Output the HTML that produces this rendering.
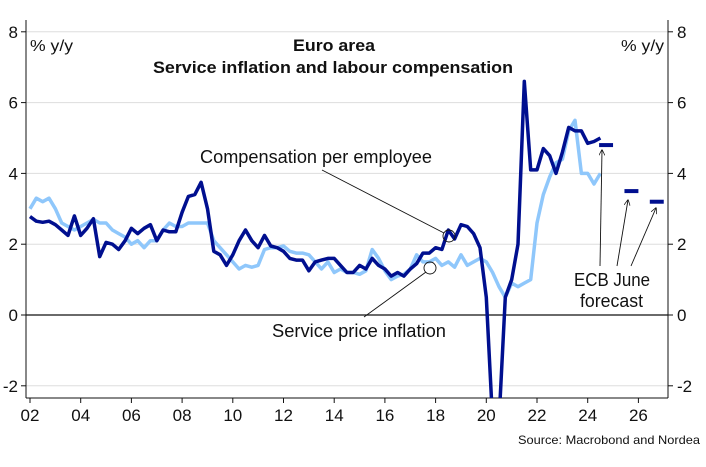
<!DOCTYPE html>
<html><head><meta charset="utf-8"><style>
html,body{margin:0;padding:0;background:#fff;}
svg text{font-family:"Liberation Sans Narrow","Liberation Sans",sans-serif;fill:#111;}
</style></head><body>
<svg id="chart" width="706" height="462" viewBox="0 0 706 462" xmlns="http://www.w3.org/2000/svg">
<defs><clipPath id="plotclip"><rect x="26" y="20" width="642" height="378"/></clipPath>
<marker id="ah" viewBox="0 0 10 10" refX="9" refY="5" markerWidth="7" markerHeight="7" orient="auto"><path d="M0,0 L10,5 L0,10" fill="none" stroke="#111" stroke-width="1.2"/></marker></defs>
<g id="grid"></g>
<g id="axes"></g>
<g id="series" clip-path="url(#plotclip)"></g>
<g id="annot">
<text x="200" y="163" font-size="18" textLength="232" lengthAdjust="spacingAndGlyphs">Compensation per employee</text>
<line x1="322" y1="170" x2="444" y2="233" stroke="#111" stroke-width="0.9"/>
<circle cx="449" cy="236" r="6" fill="none" stroke="#111" stroke-width="0.9"/>
<text x="272" y="337" font-size="18" textLength="174" lengthAdjust="spacingAndGlyphs">Service price inflation</text>
<line x1="364" y1="317" x2="426" y2="272" stroke="#111" stroke-width="0.9"/>
<circle cx="430" cy="268" r="6" fill="none" stroke="#111" stroke-width="0.9"/>
<text x="574" y="286" font-size="18" textLength="76" lengthAdjust="spacingAndGlyphs">ECB June</text>
<text x="580" y="307" font-size="18" textLength="63" lengthAdjust="spacingAndGlyphs">forecast</text>
<line x1="600" y1="266" x2="602" y2="150" stroke="#111" stroke-width="0.9" marker-end="url(#ah)"/>
<line x1="617" y1="266" x2="628" y2="200" stroke="#111" stroke-width="0.9" marker-end="url(#ah)"/>
<line x1="631" y1="266" x2="656" y2="208" stroke="#111" stroke-width="0.9" marker-end="url(#ah)"/>
</g>
<text x="30" y="51" font-size="16" textLength="43" lengthAdjust="spacingAndGlyphs">% y/y</text>
<text x="621" y="51" font-size="16" textLength="43" lengthAdjust="spacingAndGlyphs">% y/y</text>
<text x="293" y="51" font-size="17" font-weight="bold" textLength="82" lengthAdjust="spacingAndGlyphs">Euro area</text>
<text x="153" y="73" font-size="17" font-weight="bold" textLength="360" lengthAdjust="spacingAndGlyphs">Service inflation and labour compensation</text>
<text x="518" y="444" font-size="12" textLength="182" lengthAdjust="spacingAndGlyphs">Source: Macrobond and Nordea</text>
</svg>
<script>
const yTicks=[-2,0,2,4,6,8];
const xTickLabels=["02","04","06","08","10","12","14","16","18","20","22","24","26"];
const xTickYears=[2002,2004,2006,2008,2010,2012,2014,2016,2018,2020,2022,2024,2026];
const compStart=2002.0;
const compValues=[2.78,2.65,2.62,2.65,2.55,2.4,2.25,2.8,2.25,2.45,2.72,1.65,2.05,2.0,1.85,2.1,2.45,2.3,2.45,2.55,2.1,2.4,2.35,2.35,2.9,3.35,3.4,3.75,3.0,1.8,1.7,1.4,1.7,2.1,2.4,2.1,1.9,2.25,1.95,1.9,1.8,1.6,1.55,1.55,1.25,1.5,1.55,1.6,1.6,1.4,1.2,1.2,1.4,1.3,1.6,1.4,1.3,1.1,1.2,1.1,1.3,1.45,1.75,1.75,1.9,1.85,2.4,2.15,2.55,2.5,2.3,1.9,0.5,-3.0,-3.0,0.5,1.0,2.0,6.6,4.1,4.1,4.7,4.5,4.0,4.6,5.3,5.2,5.2,4.85,4.9,5.0];
const servStart=2002.0;
const servValues=[3.0,3.3,3.2,3.3,3.0,2.6,2.5,2.4,2.5,2.6,2.7,2.6,2.6,2.4,2.3,2.2,2.0,2.1,1.9,2.1,2.1,2.4,2.6,2.5,2.5,2.6,2.6,2.6,2.6,2.1,1.9,1.7,1.5,1.3,1.4,1.35,1.4,1.85,1.9,1.9,1.95,1.8,1.75,1.75,1.7,1.5,1.3,1.5,1.2,1.3,1.2,1.2,1.15,1.25,1.85,1.6,1.25,1.0,1.1,1.15,1.3,1.7,1.5,1.5,1.6,1.4,1.5,1.35,1.7,1.4,1.5,1.6,1.5,1.2,0.8,0.5,0.9,0.8,0.9,1.0,2.6,3.4,3.9,4.3,4.4,5.2,5.5,4.0,4.0,3.7,4.0];
const fcYears=[2024,2025,2026];
const fcValues=[4.8,3.5,3.2];
const NS="http://www.w3.org/2000/svg";
function xs(yr){return 30+(yr-2002)*25.35;}
function ys(v){return 315-v*35.4;}
function mk(tag,attrs,parent){const e=document.createElementNS(NS,tag);for(const k in attrs)e.setAttribute(k,attrs[k]);parent.appendChild(e);return e;}
const grid=document.getElementById('grid'),axes=document.getElementById('axes'),series=document.getElementById('series');
yTicks.forEach(t=>{
  const y=ys(t);
  const g=mk('line',{x1:26,x2:668,y1:y,y2:y,stroke:t===0?'#111':'#ddd','stroke-width':t===0?1.2:1},grid);
  
  
  mk('line',{x1:21,x2:26,y1:y,y2:y,stroke:'#111'},axes);
  mk('line',{x1:668,x2:673,y1:y,y2:y,stroke:'#111'},axes);
  const l=mk('text',{x:18,y:y+6,'font-size':17,'text-anchor':'end'},axes);l.textContent=String(t);
  
  
  const r=mk('text',{x:677,y:y+6,'font-size':17},axes);r.textContent=String(t);
  
  
});
mk('line',{x1:26,x2:26,y1:20,y2:398,stroke:'#111'},axes);
mk('line',{x1:668,x2:668,y1:20,y2:398,stroke:'#111'},axes);
mk('line',{x1:26,x2:668,y1:398,y2:398,stroke:'#111'},axes);
xTickYears.forEach((yr,i)=>{
  const x=xs(yr);
  mk('line',{x1:x,x2:x,y1:398,y2:403,stroke:'#111'},axes);
  const t=mk('text',{x:x,y:421,'font-size':17,'text-anchor':'middle'},axes);t.textContent=xTickLabels[i];
  
  
});
function pathFrom(start,vals){return vals.map((v,i)=>(i?'L':'M')+xs(start+i*0.25).toFixed(1)+','+ys(v).toFixed(1)).join(' ');}
const sp=mk('path',{d:pathFrom(servStart,servValues),fill:'none',stroke:'#8fc7fb','stroke-width':3.5,'stroke-linejoin':'round'},series);


const cp=mk('path',{d:pathFrom(compStart,compValues),fill:'none',stroke:'#000f8f','stroke-width':3.5,'stroke-linejoin':'round'},series);


fcYears.forEach((yr,i)=>{
  const f=mk('line',{x1:xs(yr+0.45),x2:xs(yr+1.0),y1:ys(fcValues[i]),y2:ys(fcValues[i]),stroke:'#000f8f','stroke-width':4},series);
  
  
});
</script>
</body></html>
